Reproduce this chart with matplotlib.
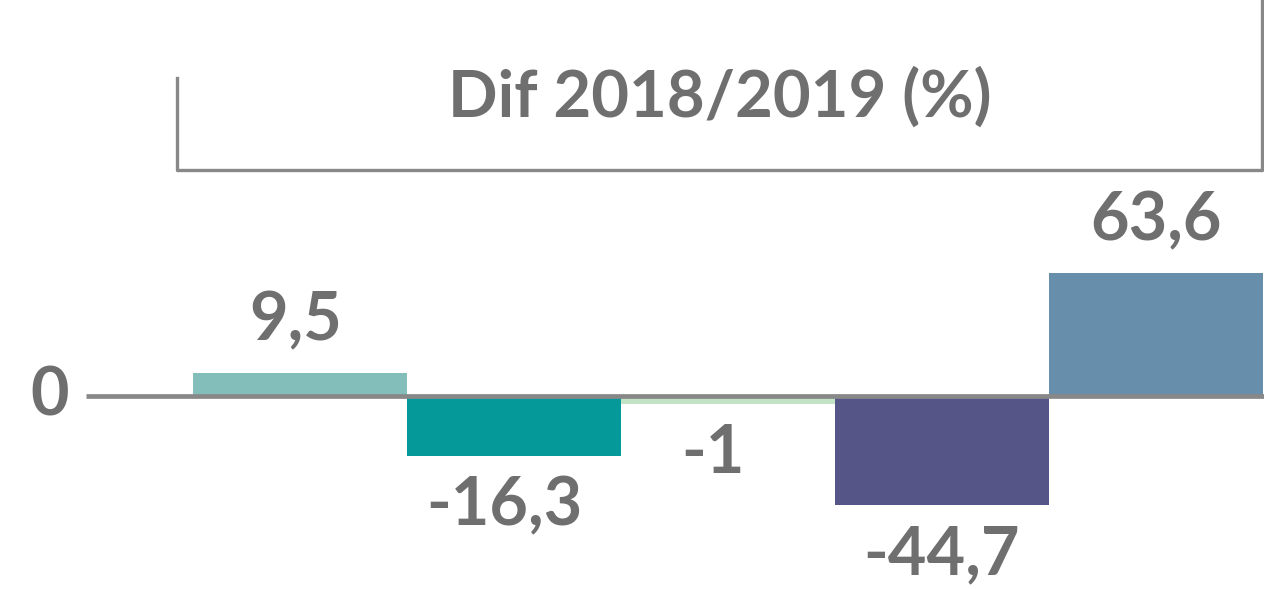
import matplotlib.pyplot as plt

# values shown on the chart
categories = ['A', 'B', 'C', 'D', 'E']
labels = ['9,5', '-16,3', '-1', '-44,7', '63,6']
values = [9.5, -16.3, -1, -44.7, 63.6]
# drawn bar lengths (bars in the picture are not to scale with labels)
bar_lengths = [11.9, -31.0, -4.1, -56.4, 63.6]
colors = ['#84bebb', '#05999a', '#c3e3c6', '#555588', '#678fab']

text_color = '#6f6f6f'
line_color = '#888888'
plt.rcParams['font.family'] = ['Lato', 'DejaVu Sans']
plt.rcParams['font.weight'] = 'bold'

fig = plt.figure(figsize=(12.64, 5.89), dpi=100)
ax = fig.add_axes([0, 0, 1, 1])

x = list(range(len(categories)))
ax.bar(x, bar_lengths, width=1.0, color=colors, zorder=2)

ax.set_xlim(-1.402, 4.505)
ax.set_ylim(-99.8, 204.8)
ax.axis('off')

# zero line
ax.plot([-1.0, 4.505], [0, 0], color=line_color, lw=3.4, zorder=3,
        solid_capstyle='butt')
ax.text(-1.17, 0, '0', ha='center', va='center', fontsize=48,
        color=text_color, fontweight='bold')

# labels sit a little left of the bar centre in the original
x_shift = [-0.02, -0.045, -0.07, 0.0, 0.0]
for i, (h, lab) in enumerate(zip(bar_lengths, labels)):
    off = 26.5 if h > 0 else -26.0
    ax.text(i + x_shift[i], h + off, lab, ha='center', va='center',
            fontsize=48, color=text_color, fontweight='bold')

# bracket with title
W, H = 1264, 589
fig.add_artist(plt.Line2D([177 / W, 177 / W, 1262 / W, 1262 / W],
                          [1 - 78 / H, 1 - 170 / H, 1 - 170 / H, 1.0],
                          transform=fig.transFigure, color=line_color, lw=2.4))
fig.text(720 / W, 1 - 97 / H, 'Dif 2018/2019 (%)', ha='center', va='center',
         fontsize=47, color=text_color, fontweight='bold')

fig.savefig('out.png', dpi=100)
